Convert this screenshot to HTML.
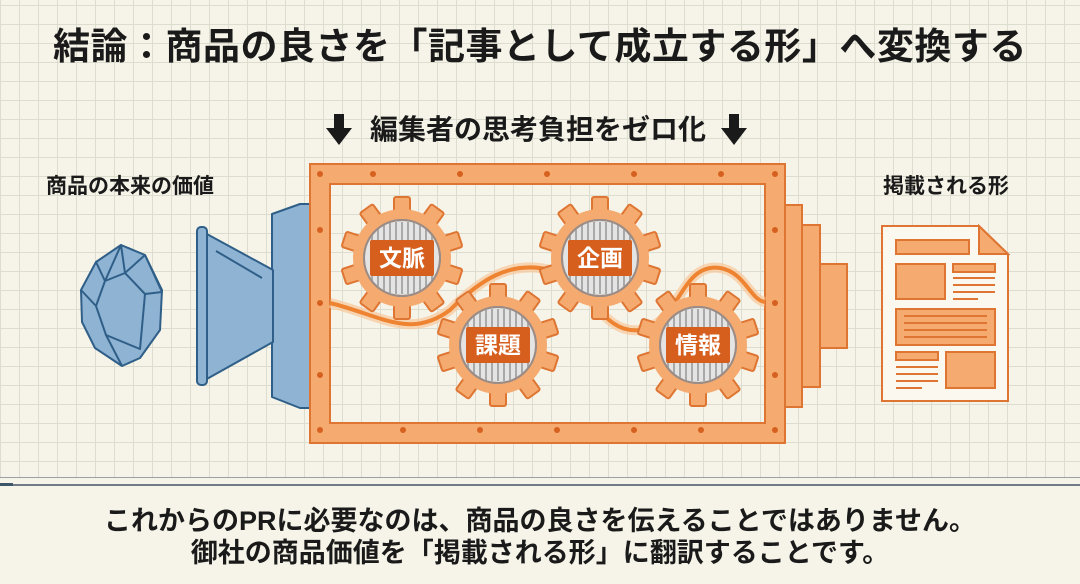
<!DOCTYPE html>
<html><head><meta charset="utf-8">
<style>
html,body{margin:0;padding:0}
body{width:1080px;height:584px;overflow:hidden;background:#f6f4e8;font-family:"Liberation Sans","Noto Sans CJK JP",sans-serif;position:relative}
.grid{position:absolute;left:0;top:0;width:1080px;height:477px;
background-image:linear-gradient(#dcdccf 1px,transparent 1px),linear-gradient(90deg,#dcdccf 1px,transparent 1px);background-size:19px 19px;background-position:0 5px;border-bottom:1.5px solid #9aa0a0}
.t{position:absolute;font-weight:bold;color:#1a1a1a;white-space:nowrap}
</style></head><body>
<div class="grid"></div>
<div style="position:absolute;left:0;top:484px;width:1080px;height:2px;background:#6f7b86"></div>
<div style="position:absolute;left:0;top:483px;width:13px;height:3px;background:#3d5568"></div>
<div class="t" style="left:0;width:1080px;text-align:center;top:24px;font-size:37px;line-height:46px;letter-spacing:0.5px">結論：商品の良さを「記事として成立する形」へ変換する</div>
<div class="t" style="left:338px;width:400px;text-align:center;top:112px;font-size:28px;line-height:36px">編集者の思考負担をゼロ化</div>
<div class="t" style="left:46px;top:174px;font-size:21px;line-height:26px">商品の本来の価値</div>
<div class="t" style="left:883px;top:174px;font-size:21px;line-height:26px">掲載される形</div>
<div class="t" style="left:0;width:1080px;text-align:center;top:505px;font-size:27px;line-height:32px">これからのPRに必要なのは、商品の良さを伝えることではありません。<br>御社の商品価値を「掲載される形」に翻訳することです。</div>
<svg width="1080" height="584" style="position:absolute;left:0;top:0">
<defs>
<g id="gear">
<g fill="#f5ab70" stroke="#de7532" stroke-width="2">
<rect x="-8" y="-61" width="16" height="18" rx="2"/>
<rect x="-8" y="-61" width="16" height="18" rx="2" transform="rotate(36)"/>
<rect x="-8" y="-61" width="16" height="18" rx="2" transform="rotate(72)"/>
<rect x="-8" y="-61" width="16" height="18" rx="2" transform="rotate(108)"/>
<rect x="-8" y="-61" width="16" height="18" rx="2" transform="rotate(144)"/>
<rect x="-8" y="-61" width="16" height="18" rx="2" transform="rotate(180)"/>
<rect x="-8" y="-61" width="16" height="18" rx="2" transform="rotate(216)"/>
<rect x="-8" y="-61" width="16" height="18" rx="2" transform="rotate(252)"/>
<rect x="-8" y="-61" width="16" height="18" rx="2" transform="rotate(288)"/>
<rect x="-8" y="-61" width="16" height="18" rx="2" transform="rotate(324)"/>
</g>
<circle r="49" fill="#f5ab70"/>
<circle r="38" fill="#e4e4e4" stroke="#9b8c86" stroke-width="2"/>
<g stroke="#a9a9a9" stroke-width="2">
<line x1="-30" y1="-24" x2="-30" y2="24"/><line x1="-24" y1="-30" x2="-24" y2="30"/><line x1="-18" y1="-33" x2="-18" y2="33"/><line x1="-12" y1="-35" x2="-12" y2="35"/><line x1="-6" y1="-36" x2="-6" y2="36"/><line x1="0" y1="-36" x2="0" y2="36"/><line x1="6" y1="-36" x2="6" y2="36"/><line x1="12" y1="-35" x2="12" y2="35"/><line x1="18" y1="-33" x2="18" y2="33"/><line x1="24" y1="-30" x2="24" y2="30"/><line x1="30" y1="-24" x2="30" y2="24"/>
</g>
<circle r="38" fill="none" stroke="#9b8c86" stroke-width="2"/>
<rect x="-32" y="-18" width="64" height="36" rx="2" fill="#d65f1e"/>
</g>
</defs>
<!-- arrows -->
<g fill="#1a1a1a"><rect x="334" y="114" width="10" height="18"/><polygon points="326,128 352,128 339,145"/>
<rect x="729" y="114" width="10" height="18"/><polygon points="721,128 747,128 734,145"/></g>
<!-- left funnel -->
<g fill="#8fb3d2" stroke="#2f5f88" stroke-width="2" stroke-linejoin="round">
<polygon points="272,214 300,204 312,204 312,408 300,408 272,397"/>
<polygon points="205,233 273,270 273,342 205,380"/>
<rect x="197" y="227" width="10" height="158" rx="4"/>
</g>
<line x1="216" y1="251" x2="262" y2="278" stroke="#2f5f88" stroke-width="2"/>
<!-- gem -->
<g fill="#8fb3d2" stroke="#2f5f88" stroke-width="2" stroke-linejoin="round">
<polygon points="121,245 145,255 162,290 160,330 140,358 122,366 95,348 82,322 81,290 96,262"/>
<polyline fill="none" points="96,262 105,281 121,245 125,273 145,255 162,292 145,294 125,273 105,281 96,306 81,290"/>
<polyline fill="none" points="96,306 106,335 140,349 145,294"/>
<polyline fill="none" points="106,335 122,366 M140,349 160,330 M106,335 82,322 M140,349 140,358"/>
</g>
<!-- right steps -->
<g fill="#f5ab70" stroke="#de7532" stroke-width="2">
<rect x="820" y="264" width="27" height="84"/>
<rect x="802" y="225" width="18" height="162"/>
<rect x="784" y="205" width="18" height="202"/>
</g>
<!-- frame -->
<path d="M310,164 H785 V443 H310 Z M330,184 V423 H765 V184 Z" fill="#f5ab70" fill-rule="evenodd" stroke="#de7532" stroke-width="2"/>
<g fill="#d6601f">
<circle cx="320" cy="174" r="3"/><circle cx="373" cy="174" r="3"/><circle cx="460" cy="174" r="3"/><circle cx="547" cy="174" r="3"/><circle cx="634" cy="174" r="3"/><circle cx="721" cy="174" r="3"/><circle cx="775" cy="174" r="3"/>
<circle cx="320" cy="430" r="3"/><circle cx="403" cy="430" r="3"/><circle cx="480" cy="430" r="3"/><circle cx="557" cy="430" r="3"/><circle cx="634" cy="430" r="3"/><circle cx="701" cy="430" r="3"/><circle cx="775" cy="430" r="3"/>
<circle cx="320" cy="230" r="3"/><circle cx="320" cy="303" r="3"/><circle cx="320" cy="375" r="3"/>
<circle cx="775" cy="230" r="3"/><circle cx="775" cy="303" r="3"/><circle cx="775" cy="375" r="3"/>
</g>
<!-- wave -->
<path d="M330,303 C380,315 410,340 450,310 C480,280 510,260 550,270 C590,280 600,335 640,330 C680,325 680,262 720,268 C745,272 750,300 765,302" fill="none" stroke="#f8c79c" stroke-width="10" opacity="0.7"/>
<path d="M330,303 C380,315 410,340 450,310 C480,280 510,260 550,270 C590,280 600,335 640,330 C680,325 680,262 720,268 C745,272 750,300 765,302" fill="none" stroke="#ee8432" stroke-width="4"/>
<!-- gears -->
<use href="#gear" x="402" y="258"/>
<use href="#gear" x="600" y="258"/>
<use href="#gear" x="498" y="345"/>
<use href="#gear" x="698" y="345"/>
<g fill="#fff" font-size="23" font-weight="bold" text-anchor="middle" font-family="Liberation Sans,Noto Sans CJK JP,sans-serif">
<text x="402" y="266">文脈</text><text x="600" y="266">企画</text><text x="498" y="353">課題</text><text x="698" y="353">情報</text>
</g>
<!-- document -->
<g stroke="#de7532" stroke-width="2" fill="#f5ab70">
<path d="M882,226 H979 L1008,254 V401 H882 Z" fill="#fbf8ef"/>
<path d="M979,226 V254 H1008 Z"/>
<rect x="896" y="240" width="73" height="14"/>
<rect x="896" y="264" width="49" height="35"/>
<rect x="953" y="264" width="42" height="8"/>
<rect x="896" y="309" width="99" height="36"/>
<rect x="896" y="352" width="42" height="8"/>
<rect x="946" y="352" width="49" height="36"/>
</g>
<g stroke="#de7532" stroke-width="2">
<line x1="953" y1="278" x2="995" y2="278"/><line x1="953" y1="285" x2="995" y2="285"/><line x1="953" y1="292" x2="995" y2="292"/><line x1="953" y1="299" x2="978" y2="299"/>
<line x1="904" y1="316" x2="987" y2="316"/><line x1="904" y1="323" x2="987" y2="323"/><line x1="904" y1="330" x2="987" y2="330"/><line x1="904" y1="337" x2="987" y2="337"/>
<line x1="896" y1="367" x2="938" y2="367"/><line x1="896" y1="374" x2="938" y2="374"/><line x1="896" y1="381" x2="938" y2="381"/><line x1="896" y1="388" x2="922" y2="388"/>
</g>
</svg>
</body></html>
